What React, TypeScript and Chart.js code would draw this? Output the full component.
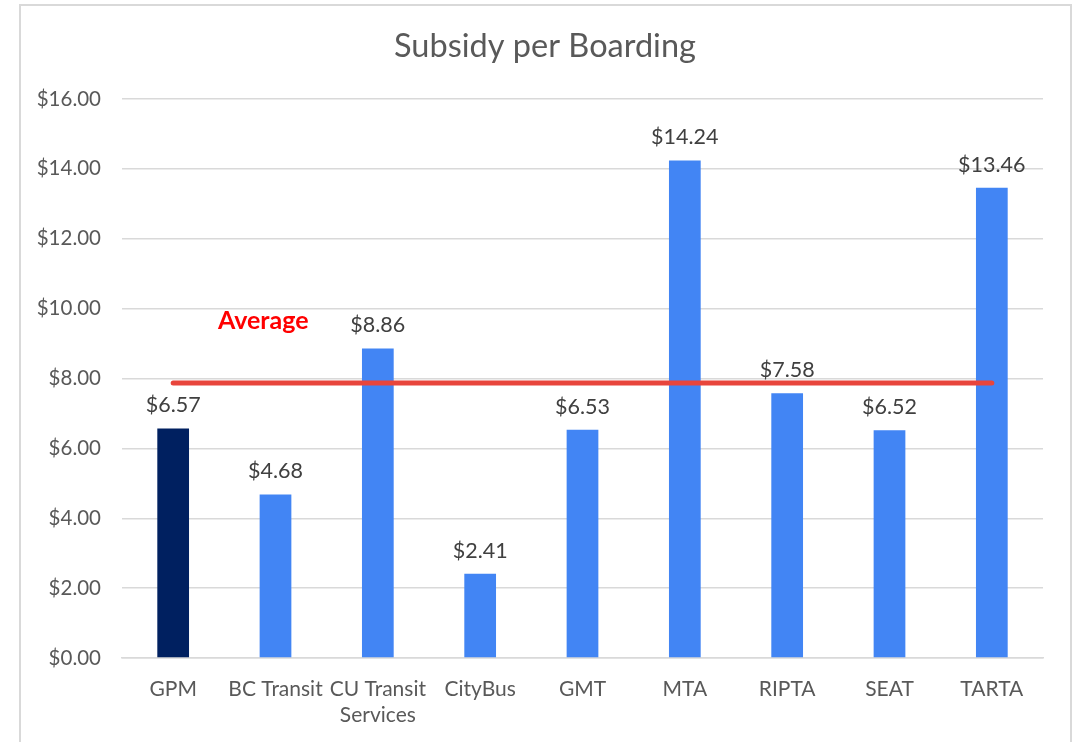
import React, { useEffect, useRef } from "react";
import { Chart, registerables } from "chart.js";

Chart.register(...registerables);

const categories: (string | string[])[] = [
  "GPM",
  "BC Transit",
  ["CU Transit", "Services"],
  "CityBus",
  "GMT",
  "MTA",
  "RIPTA",
  "SEAT",
  "TARTA",
];
const subsidyValues = [6.57, 4.68, 8.86, 2.41, 6.53, 14.24, 7.58, 6.52, 13.46];
const averageValue = 7.87;
const yTickValues = [0, 2, 4, 6, 8, 10, 12, 14, 16];
const titleText = "Subsidy per Boarding";
const averageLabel = "Average";

const FONT = "Lato, 'Open Sans', sans-serif";

const overlayPlugin = {
  id: "overlay",
  afterDatasetsDraw(chart: any) {
    const ctx = chart.ctx;
    const xs = chart.scales.x;
    const ys = chart.scales.y;
    const barMeta = chart.getDatasetMeta(1);
    ctx.save();
    // data labels
    ctx.font = `21.5px ${FONT}`;
    ctx.fillStyle = "#404040";
    ctx.textAlign = "center";
    ctx.textBaseline = "middle";
    barMeta.data.forEach((bar: any, i: number) => {
      ctx.fillText("$" + subsidyValues[i].toFixed(2), bar.x, bar.y - 23);
    });
    // average label
    ctx.font = `bold 25px ${FONT}`;
    ctx.fillStyle = "#FF0000";
    ctx.fillText(averageLabel, xs.getPixelForValue(0.88), ys.getPixelForValue(9.64));
    // title
    ctx.font = `32.5px ${FONT}`;
    ctx.fillStyle = "#595959";
    ctx.fillText(titleText, 545, 47);
    ctx.restore();
  },
};

export default function App() {
  const ref = useRef<HTMLCanvasElement | null>(null);
  useEffect(() => {
    if (!ref.current) return;
    const chart = new Chart(ref.current, {
      type: "bar",
      data: {
        labels: categories,
        datasets: [
          {
            type: "line",
            label: "Average",
            data: categories.map(() => averageValue),
            borderColor: "#E8453C",
            borderWidth: 5,
            borderCapStyle: "round",
            pointRadius: 0,
            fill: false,
            order: 0,
          } as any,
          {
            type: "bar",
            label: "Subsidy per Boarding",
            data: subsidyValues,
            backgroundColor: subsidyValues.map((_, i) => (i === 0 ? "#002060" : "#4285F4")),
            categoryPercentage: 1,
            barPercentage: 0.31,
            order: 1,
          },
        ],
      },
      options: {
        responsive: false,
        animation: false,
        layout: { padding: { top: 99, right: 38, bottom: 0, left: 0 } },
        plugins: {
          legend: { display: false },
          title: { display: false },
          tooltip: { enabled: false },
        },
        scales: {
          x: {
            grid: { display: false, drawTicks: false },
            border: { display: true, color: "#D9D9D9", width: 1.5 },
            ticks: {
              color: "#595959",
              font: { family: FONT, size: 21, lineHeight: 1.25 },
              padding: 18,
              maxRotation: 0,
              autoSkip: false,
            },
            afterFit(scale: any) {
              scale.height = 84;
            },
          },
          y: {
            min: 0,
            max: 16,
            afterBuildTicks(scale: any) {
              scale.ticks = yTickValues.map((v) => ({ value: v }));
            },
            grid: { color: "#D9D9D9", lineWidth: 1.5, drawTicks: false },
            border: { display: false },
            ticks: {
              color: "#595959",
              font: { family: FONT, size: 20.5 },
              padding: 21,
              callback: (v: any) => "$" + Number(v).toFixed(2),
            },
            afterFit(scale: any) {
              scale.width = 122;
            },
          },
        },
      },
      plugins: [overlayPlugin],
    });
    return () => chart.destroy();
  }, []);
  return (
    <div
      style={{
        position: "fixed",
        left: 0,
        top: 0,
        width: 1081,
        height: 742,
        overflow: "hidden",
        background: "#fff",
      }}
    >
      <canvas
        ref={ref}
        width={1081}
        height={742}
        style={{ position: "absolute", left: 0, top: 0, width: 1081, height: 742 }}
      />
      <div
        style={{
          position: "absolute",
          left: 19,
          top: 4,
          width: 1053,
          height: 800,
          border: "2px solid #D9D9D9",
          boxSizing: "border-box",
          pointerEvents: "none",
        }}
      />
    </div>
  );
}
